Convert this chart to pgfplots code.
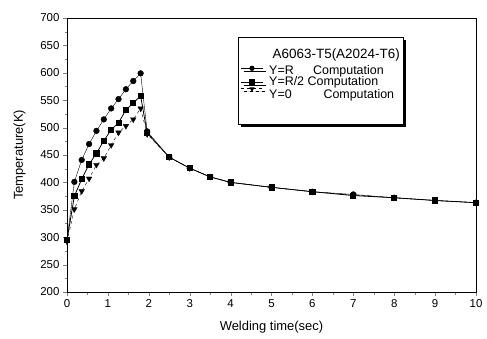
\documentclass[border=0pt]{standalone}
\usepackage{fontspec}
\setmainfont{Liberation Sans}
\usepackage{pgfplots}
\pgfplotsset{compat=1.18}
\usetikzlibrary{shadows}
\begin{document}
\begin{tikzpicture}
\begin{axis}[
  scale only axis,
  width=409bp, height=274bp,
  xmin=0, xmax=10, ymin=200, ymax=700,
  xtick={0,1,...,10}, ytick={200,250,...,700},
  minor x tick num=1, minor y tick num=1,
  tick align=outside, xtick pos=bottom, ytick pos=left,
  major tick length=4bp, minor tick length=2.5bp,
  /pgf/number format/assume math mode=true,
  tick label style={font=\fontsize{11.5}{12}\selectfont},
  xlabel={Welding time(sec)}, ylabel={Temperature(K)},
  label style={font=\fontsize{13}{14}\selectfont},
  xlabel style={yshift=-7bp}, ylabel style={yshift=8bp},
  axis line style={line width=0.9pt},
  legend style={at={(0.418,0.932)}, anchor=north west, draw=black, line width=0.6pt,
    fill=white, drop shadow={shadow xshift=3bp, shadow yshift=-3bp, fill=black, opacity=1},
    font=\fontsize{12.5}{13}\selectfont, inner xsep=2pt, inner ysep=3pt, row sep=0pt, column sep=0pt,
    nodes={inner xsep=1.5pt, inner ysep=0.5pt}},
  legend cell align=left,
  legend image code/.code={\draw[mark repeat=2,mark phase=2] plot coordinates {(0cm,0cm) (0.4cm,0cm) (0.8cm,0cm)};},
  legend image post style={line width=0.8pt, mark size=2.2pt},
]
\addlegendimage{empty legend}
\addlegendentry{\rule{0pt}{18pt}\hspace{0.6em}\fontsize{13.5}{14}\selectfont A6063-T5(A2024-T6)}
\addplot[black, thin, mark=*, mark size=2.9pt, mark options={solid}] coordinates {
(0,295) (0.18,401) (0.36,441) (0.54,470) (0.72,494) (0.9,515) (1.08,535) (1.26,552) (1.44,570) (1.62,585) (1.8,599)
(1.96,493) (2.5,446) (3,426) (3.5,410) (4,400) (5,391) (6,383) (7,378) (8,372) (9,367) (10,363)};
\addlegendentry{\rule{0pt}{13.5pt}\hspace{4pt}Y=R\quad\ \ Computation}
\addplot[black, line width=0.8pt, mark=square*, mark size=2.6pt, mark options={solid}] coordinates {
(0,295) (0.18,375) (0.36,406) (0.54,433) (0.72,453) (0.9,476) (1.08,496) (1.26,509) (1.44,532) (1.62,545) (1.8,558)
(1.96,490) (2.5,446) (3,426) (3.5,410) (4,400) (5,391) (6,383) (7,376) (8,372) (9,367) (10,363)};
\addlegendentry{\hspace{4pt}Y=R/2 Computation}
\addplot[black, thin, dashed, mark=triangle*, mark size=3.2pt, mark options={solid, rotate=180},
  legend image code/.code={\draw[mark repeat=2,mark phase=2,yshift=16pt] plot coordinates {(0cm,0cm) (0.4cm,0cm) (0.8cm,0cm)};}] coordinates {
(0,292) (0.18,351) (0.36,384) (0.54,407) (0.72,432) (0.9,444) (1.08,468) (1.26,491) (1.44,503) (1.62,515) (1.8,535)
(1.96,488) (2.5,446) (3,426) (3.5,410) (4,400) (5,391) (6,383) (7,377) (8,372) (9,367) (10,363)};
\addlegendentry{\raisebox{21pt}{\hspace{4pt}Y=0\qquad\ \ Computation}}
\end{axis}
\path (current axis.south west) ++(-67bp,-47bp) coordinate (bbA);
\path (current axis.north east) ++(11bp,18bp) coordinate (bbB);
\useasboundingbox (bbA) rectangle (bbB);
\end{tikzpicture}
\end{document}
